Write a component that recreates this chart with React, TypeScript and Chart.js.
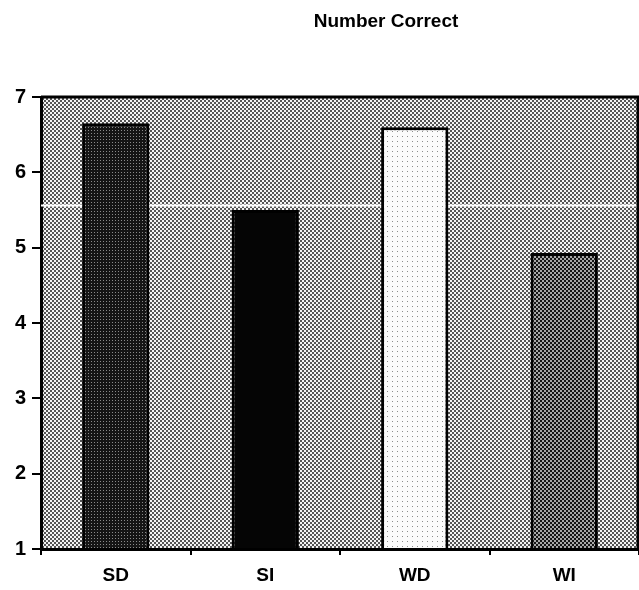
import { useEffect, useRef } from 'react';
import { Chart, registerables } from 'chart.js';

Chart.register(...registerables);

const TITLE = 'Number Correct';
const CATEGORIES = ['SD', 'SI', 'WD', 'WI'];
const VALUES = [6.65, 5.5, 6.6, 4.93];
const Y_MIN = 1;
const Y_MAX = 7;
const Y_STEP = 1;
const REF_LINE = 5.56;

const FONT = '"Liberation Sans", Arial, sans-serif';

function makePattern(size: number, base: string, dots: Array<[number, number, string]>) {
  const c = document.createElement('canvas');
  c.width = size;
  c.height = size;
  const g = c.getContext('2d')!;
  g.fillStyle = base;
  g.fillRect(0, 0, size, size);
  for (const [x, y, col] of dots) {
    g.fillStyle = col;
    g.fillRect(x, y, 1, 1);
  }
  return g.createPattern(c, 'repeat')!;
}

function checker(a: string, b: string) {
  return makePattern(4, a, [
    [2, 0, b], [3, 0, b], [2, 1, b], [3, 1, b],
    [0, 2, b], [1, 2, b], [0, 3, b], [1, 3, b],
  ]);
}

export default function App() {
  const ref = useRef<HTMLCanvasElement | null>(null);

  useEffect(() => {
    if (!ref.current) return;
    const plotBg = checker('#555555', '#f4f4f4');
    const sdFill = makePattern(3, '#151515', [[1, 1, '#8a8a8a']]);
    const siFill = '#050505';
    const wdFill = makePattern(5, '#fbfbfb', [[2, 1, '#8c8c8c']]);
    const wiFill = checker('#161616', '#a8a8a8');

    const decor = {
      id: 'decor',
      beforeDraw(chart: any) {
        const { ctx, chartArea: a } = chart;
        ctx.save();
        ctx.fillStyle = '#ffffff';
        ctx.fillRect(0, 0, chart.width, chart.height);
        ctx.fillStyle = plotBg;
        ctx.fillRect(a.left, a.top, a.right - a.left, a.bottom - a.top);
        ctx.fillStyle = '#000000';
        ctx.font = `bold 19px ${FONT}`;
        ctx.textAlign = 'center';
        ctx.textBaseline = 'middle';
        ctx.fillText(TITLE, 386, 22);
        ctx.restore();
      },
      beforeDatasetsDraw(chart: any) {
        const { ctx, chartArea: a, scales } = chart;
        const y = scales.y.getPixelForValue(REF_LINE);
        ctx.save();
        ctx.strokeStyle = '#ffffff';
        ctx.lineWidth = 2;
        ctx.beginPath();
        ctx.moveTo(a.left, y);
        ctx.lineTo(a.right, y);
        ctx.stroke();
        ctx.restore();
      },
      afterDraw(chart: any) {
        const { ctx, chartArea: a } = chart;
        ctx.save();
        ctx.strokeStyle = '#000000';
        ctx.lineWidth = 3;
        ctx.beginPath();
        ctx.moveTo(a.left, a.top);
        ctx.lineTo(a.right - 1, a.top);
        ctx.lineTo(a.right - 1, a.bottom);
        ctx.stroke();
        ctx.restore();
      },
    };

    const chart = new Chart(ref.current, {
      type: 'bar',
      data: {
        labels: CATEGORIES,
        datasets: [
          {
            data: VALUES,
            base: Y_MIN,
            backgroundColor: [sdFill, siFill, wdFill, wiFill],
            borderColor: '#000000',
            borderWidth: 3,
            barPercentage: 0.45,
            categoryPercentage: 1,
          },
        ],
      },
      options: {
        responsive: false,
        animation: false,
        layout: { padding: { top: 97, right: 0, left: 0, bottom: 0 } },
        plugins: {
          legend: { display: false },
          tooltip: { enabled: false },
          title: { display: false },
        },
        scales: {
          x: {
            afterFit(scale: any) {
              scale.height = 41;
            },
            grid: {
              display: true,
              offset: true,
              drawOnChartArea: false,
              drawTicks: true,
              tickLength: 6,
              color: '#000000',
              lineWidth: 2,
            },
            border: { display: true, color: '#000000', width: 3 },
            ticks: {
              color: '#000000',
              font: { family: FONT, size: 19, weight: 'bold' },
              padding: 9,
            },
          },
          y: {
            min: Y_MIN,
            max: Y_MAX,
            afterFit(scale: any) {
              scale.width = 41;
            },
            grid: {
              display: true,
              drawOnChartArea: false,
              drawTicks: true,
              tickLength: 9,
              color: '#000000',
              lineWidth: 2,
            },
            border: { display: true, color: '#000000', width: 3 },
            ticks: {
              stepSize: Y_STEP,
              color: '#000000',
              font: { family: FONT, size: 20, weight: 'bold' },
              padding: 6,
            },
          },
        },
      },
      plugins: [decor],
    } as any);

    return () => chart.destroy();
  }, []);

  return (
    <div style={{ position: 'absolute', left: 0, top: 0, width: 639, height: 590, background: '#fff' }}>
      <canvas ref={ref} width={639} height={590} style={{ display: 'block' }} />
    </div>
  );
}
